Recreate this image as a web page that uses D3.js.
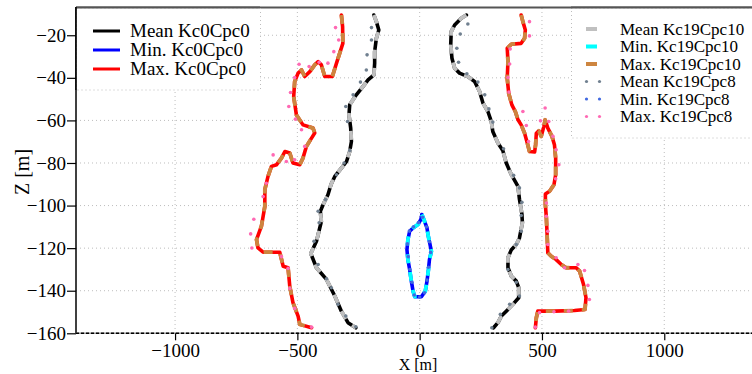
<!DOCTYPE html>
<html><head><meta charset="utf-8">
<script src="https://cdn.jsdelivr.net/npm/d3@7/dist/d3.min.js"></script>
<style>html,body{margin:0;padding:0;background:#fff;}svg{display:block;} svg text{font-family:"Liberation Serif","Tinos","Times New Roman","DejaVu Serif",serif !important;}</style>
</head><body>
<svg id="c" width="752" height="374"></svg>
<script>
// ---- data (x [m], z [m]) ----
const xTicks = [-1000, -500, 0, 500, 1000];
const yTicks = [-160, -140, -120, -100, -80, -60, -40, -20];
const xDomain = [-1405, 1405];
const yDomain = [-160, -7.2];

const meanKc0Cpc0Left = [[-187,-10.5],[-177,-13.6],[-167,-17.5],[-177,-21.4],[-184,-27.7],[-184,-33.1],[-187,-38.6],[-211,-41],[-232,-44.1],[-259,-48],[-286,-52.7],[-289,-57.4],[-282,-63.6],[-279,-69.9],[-286,-74.6],[-299,-79.3],[-320,-82.4],[-347,-86.3],[-362,-90],[-375,-94.9],[-395,-99.6],[-406,-102.7],[-402,-107.5],[-415,-113.6],[-422,-116.8],[-445,-122.5],[-422,-129.2],[-381,-134.7],[-347,-142.5],[-320,-149.6],[-293,-155],[-261,-157.4]];
const meanKc0Cpc0Right = [[191,-10.5],[170,-12],[143,-15.2],[129,-18.3],[127,-24.5],[132,-30.8],[143,-35.5],[163,-37.8],[197,-39.4],[225,-41.8],[245,-46.4],[259,-51.9],[279,-55.8],[293,-60.5],[299,-65.2],[320,-70.6],[340,-74.2],[354,-80],[375,-85.5],[402,-91],[408,-97],[418,-104],[420,-108],[408,-115.2],[395,-118.3],[375,-120.7],[361,-124.5],[361,-129.2],[375,-133.2],[395,-135.5],[405,-138.6],[405,-143.3],[381,-146.4],[354,-149.6],[334,-151.9],[320,-155],[302,-157.4]];
const minKc0Cpc0 = [[9,-104.2],[20,-107.4],[30,-110.5],[34,-113.6],[41,-117.5],[48,-121.5],[40,-125.4],[36,-130],[30,-135.5],[23,-140.2],[7,-142.8],[-20,-142.8],[-27,-140.2],[-34,-135.5],[-41,-130],[-48,-125.4],[-52,-120.7],[-48,-116],[-41,-112.1],[-27,-110.5],[-7,-108.9],[5,-106.5],[9,-104.2]];
const maxKc0Cpc0Left = [[-320,-10.5],[-315,-16],[-314,-23.8],[-338,-32.4],[-357,-39.4],[-388,-39.4],[-402,-33.9],[-415,-32.4],[-429,-33.9],[-449,-37.1],[-470,-39.4],[-483,-36.3],[-497,-37.8],[-511,-41.8],[-515,-48.8],[-504,-57.4],[-477,-62.1],[-436,-63.6],[-429,-65.9],[-442,-68.3],[-463,-72.2],[-477,-77.7],[-490,-80.8],[-518,-80],[-531,-75.3],[-551,-74.6],[-565,-77.7],[-585,-80.8],[-606,-81.6],[-620,-86.3],[-633,-92.5],[-633,-100.4],[-647,-109.7],[-667,-116],[-661,-119.9],[-640,-121.9],[-572,-121.9],[-558,-128.5],[-538,-129.2],[-531,-137.9],[-518,-145.6],[-497,-151.9],[-490,-155.8],[-442,-157.4]];
const maxKc0Cpc0Right = [[415,-10.5],[422,-13.6],[432,-17.5],[429,-21.4],[415,-23.8],[375,-24.2],[358,-26.1],[361,-32.4],[358,-40.2],[364,-47.2],[377,-52.7],[391,-55.8],[402,-59.7],[415,-62.1],[429,-66],[440,-70.6],[449,-74.6],[470,-74.8],[474,-71.4],[477,-66],[487,-64.9],[497,-67.5],[508,-62.8],[513,-59.7],[524,-63.6],[541,-67.5],[551,-71.4],[556,-77.7],[556,-85.5],[549,-90.2],[531,-93.3],[514,-94.6],[514,-99.6],[518,-105.8],[521,-113.6],[524,-122.2],[538,-123.8],[558,-125.4],[579,-127.7],[599,-129.2],[640,-129.2],[654,-130.8],[670,-137.1],[680,-143.3],[676,-148.8],[633,-149.3],[551,-149.6],[483,-149.6],[477,-152.7],[473,-157.4]];

// Kc19Cpc10 runs coincide with the Kc0Cpc0 runs in the picture
const meanKc19Cpc10Left = meanKc0Cpc0Left;
const meanKc19Cpc10Right = meanKc0Cpc0Right;
const minKc19Cpc10 = minKc0Cpc0;
const maxKc19Cpc10Left = maxKc0Cpc0Left;
const maxKc19Cpc10Right = maxKc0Cpc0Right;

const meanKc19Cpc8 = [[-197,-16.4],[-197,-22.2],[-215,-29.2],[-218,-36.3],[-242,-42],[-272,-48],[-302,-53.5],[-295,-60.5],[-286,-74.1],[-309,-80],[-340,-85.5],[-385,-97.2],[-415,-102.7],[-411,-108.1],[-432,-116.8],[-415,-127.7],[-381,-134.4],[-361,-138.6],[-334,-146.4],[-302,-151.9],[-261,-156.9],
  [197,-14.7],[166,-19.4],[152,-26.1],[159,-32.7],[193,-38.1],[238,-42],[266,-48],[283,-54.6],[299,-60.8],[343,-73.3],[384,-85.8],[408,-91.7],[418,-98.5],[415,-104.7],[415,-112.1],[395,-118.3],[361,-130],[395,-136],[408,-142.5],[368,-146.4],[330,-151.1],[295,-157.4]];
const minKc19Cpc8 = [[12,-105.5],[28,-110],[40,-117],[45,-122],[36,-129],[30,-135],[20,-141],[0,-143],[-22,-142],[-32,-136],[-40,-130],[-47,-124],[-50,-118],[-42,-112],[-25,-110],[-5,-108]];
const maxKc19Cpc8 = [[-344,-16.4],[-331,-22.2],[-351,-27.7],[-375,-33.1],[-411,-32.7],[-452,-34.7],[-493,-33.6],[-511,-39.9],[-528,-46.9],[-535,-53.5],[-508,-59.4],[-483,-64.4],[-470,-72.2],[-511,-78.5],[-545,-79.3],[-599,-76.2],[-627,-89.5],[-640,-95.8],[-678,-106.4],[-691,-113.3],[-686,-119.9],[-565,-124],[-538,-129.5],[-531,-138.9],[-511,-148.3],[-442,-157.1],
  [449,-13.6],[449,-20.3],[370,-26.4],[368,-33.5],[361,-39.9],[365,-46.7],[422,-55.8],[436,-62.4],[445,-69.9],[513,-54.2],[494,-60.2],[528,-60.5],[545,-67.5],[558,-73.8],[569,-80.8],[556,-87.4],[518,-98.8],[518,-105],[524,-112.1],[524,-118.3],[558,-124.5],[592,-129.2],[647,-127.7],[674,-130.5],[688,-137.5],[694,-144.1],[609,-149.6],[549,-149.9],[490,-150.3],[473,-157.1]];

const legendLeft = [
  {label:"Mean Kc0Cpc0", color:"#000000"},
  {label:"Min. Kc0Cpc0", color:"#0000ff"},
  {label:"Max. Kc0Cpc0", color:"#ff0000"}];
const legendRight = [
  {label:"Mean Kc19Cpc10", color:"#c0c0c0", type:"line"},
  {label:"Min. Kc19Cpc10", color:"#00ffff", type:"line"},
  {label:"Max. Kc19Cpc10", color:"#cd853f", type:"line"},
  {label:"Mean Kc19Cpc8", color:"#708090", type:"dot"},
  {label:"Min. Kc19Cpc8", color:"#4169e1", type:"dot"},
  {label:"Max. Kc19Cpc8", color:"#ff69b4", type:"dot"}];

// ---- drawing ----
const svg = d3.select("#c");
const L = 76, T = 8, B = 333.3;
const x = d3.scaleLinear().domain(xDomain).range([L, L + (xDomain[1]-xDomain[0])*0.2446]);
const y = d3.scaleLinear().domain(yDomain).range([B, T]);
const R = x.range()[1];

svg.append("defs").append("clipPath").attr("id","clip")
  .append("rect").attr("x",L).attr("y",T).attr("width",R-L).attr("height",B-T);

// grid
const grid = svg.append("g");
grid.selectAll(".gx").data(xTicks).join("line")
  .attr("x1",d=>x(d)).attr("x2",d=>x(d)).attr("y1",T).attr("y2",B)
  .attr("stroke","#bdbdbd").attr("stroke-width",1).attr("stroke-dasharray","1,3");
grid.selectAll(".gy").data(yTicks).join("line")
  .attr("x1",L).attr("x2",R).attr("y1",d=>y(d)).attr("y2",d=>y(d))
  .attr("stroke","#bdbdbd").attr("stroke-width",1).attr("stroke-dasharray","1,3");

const line = d3.line().x(d=>x(d[0])).y(d=>y(d[1]));
const plot = svg.append("g").attr("clip-path","url(#clip)");

function drawLine(data, color, w, dash) {
  const p = plot.append("path").attr("d", line(data)).attr("fill","none")
    .attr("stroke", color).attr("stroke-width", w)
    .attr("stroke-linejoin","round").attr("stroke-linecap", dash ? "butt" : "round");
  if (dash) p.attr("stroke-dasharray", dash);
}
function drawDots(data, color) {
  plot.append("g").selectAll("circle").data(data).join("circle")
    .attr("cx",d=>x(d[0])).attr("cy",d=>y(d[1])).attr("r",1.8).attr("fill",color);
}

drawLine(meanKc0Cpc0Left, "#000", 3.6);
drawLine(meanKc0Cpc0Right, "#000", 3.6);
drawLine(meanKc19Cpc10Left, "#c0c0c0", 3.8, "9,9");
drawLine(meanKc19Cpc10Right, "#c0c0c0", 3.8, "9,9");
drawLine(minKc0Cpc0, "#0000ff", 3.6);
drawLine(minKc19Cpc10, "#00ffff", 3.8, "9,9");
drawLine(maxKc0Cpc0Left, "#ff0000", 3.6);
drawLine(maxKc0Cpc0Right, "#ff0000", 3.6);
drawLine(maxKc19Cpc10Left, "#cd853f", 3.8, "9,9");
drawLine(maxKc19Cpc10Right, "#cd853f", 3.8, "9,9");
drawDots(meanKc19Cpc8, "#708090");
drawDots(minKc19Cpc8, "#4169e1");
drawDots(maxKc19Cpc8, "#ff69b4");

// frame
svg.append("line").attr("x1",L).attr("x2",R).attr("y1",T-0.5).attr("y2",T-0.5).attr("stroke","#555").attr("stroke-width",1.8);
svg.append("line").attr("x1",L).attr("x2",L).attr("y1",T-1).attr("y2",B).attr("stroke","#000").attr("stroke-width",1.5);
svg.append("line").attr("x1",L).attr("x2",R).attr("y1",B).attr("y2",B).attr("stroke","#999").attr("stroke-width",1.5);
svg.append("line").attr("x1",L).attr("x2",R).attr("y1",B).attr("y2",B).attr("stroke","#000").attr("stroke-width",1.5).attr("stroke-dasharray","3,2");

// axes
const fmt = d => d < 0 ? "\u2212" + Math.abs(d) : String(d);
const xAxis = d3.axisBottom(x).tickValues(xTicks).tickSize(7).tickPadding(3).tickFormat(fmt);
const gx = svg.append("g").attr("transform",`translate(0,${B})`).call(xAxis);
gx.attr("font-family", null).attr("font-size", null);
gx.select(".domain").remove();
gx.selectAll("line").attr("stroke","#000").attr("stroke-width",1.2);
gx.selectAll("text").attr("font-size","19px").attr("fill","#000");

const yAxis = d3.axisLeft(y).tickValues(yTicks).tickSize(9).tickPadding(1).tickFormat(fmt);
const gy = svg.append("g").attr("transform",`translate(${L},0)`).call(yAxis);
gy.attr("font-family", null).attr("font-size", null);
gy.select(".domain").remove();
gy.selectAll("line").attr("stroke","#000").attr("stroke-width",1.2);
gy.selectAll("text").attr("font-size","19px").attr("fill","#000");

svg.append("text").attr("transform","translate(29,172) rotate(-90)").attr("text-anchor","middle")
  .attr("font-size","20px").text("Z [m]");
svg.append("text").attr("x",418).attr("y",370).attr("text-anchor","middle")
  .attr("font-size","16px").text("X [m]");

// legends
const lg1 = svg.append("g");
lg1.append("rect").attr("x",L+0.5).attr("y",T).attr("width",260-L).attr("height",90-T)
  .attr("fill","#fff").attr("stroke","#bdbdbd").attr("stroke-dasharray","1,3");
lg1.append("line").attr("x1",L).attr("x2",260).attr("y1",T-0.5).attr("y2",T-0.5).attr("stroke","#555").attr("stroke-width",1.8);
lg1.append("line").attr("x1",L).attr("x2",L).attr("y1",T-1).attr("y2",90).attr("stroke","#000").attr("stroke-width",1.5);
legendLeft.forEach((d,i) => {
  const yy = 31 + i*19;
  lg1.append("line").attr("x1",93).attr("x2",120).attr("y1",yy).attr("y2",yy).attr("stroke",d.color).attr("stroke-width",3);
  lg1.append("text").attr("x",130).attr("y",yy+6).attr("font-size","19px").text(d.label);
});

const lg2 = svg.append("g");
lg2.append("rect").attr("x",571.5).attr("y",T).attr("width",200).attr("height",138-T)
  .attr("fill","#fff").attr("stroke","#bdbdbd").attr("stroke-dasharray","1,3");
lg2.append("line").attr("x1",571).attr("x2",R).attr("y1",T-0.5).attr("y2",T-0.5).attr("stroke","#555").attr("stroke-width",1.8);
legendRight.forEach((d,i) => {
  const yy = 29 + i*17.5;
  if (d.type === "line") {
    lg2.append("line").attr("x1",586).attr("x2",597).attr("y1",yy).attr("y2",yy).attr("stroke",d.color).attr("stroke-width",4);
  } else {
    [586.5, 599.5].forEach(cx => lg2.append("circle").attr("cx",cx).attr("cy",yy).attr("r",1.6).attr("fill",d.color));
  }
  lg2.append("text").attr("x",620).attr("y",yy+5.5).attr("font-size","17px").text(d.label);
});
</script>
</body></html>
